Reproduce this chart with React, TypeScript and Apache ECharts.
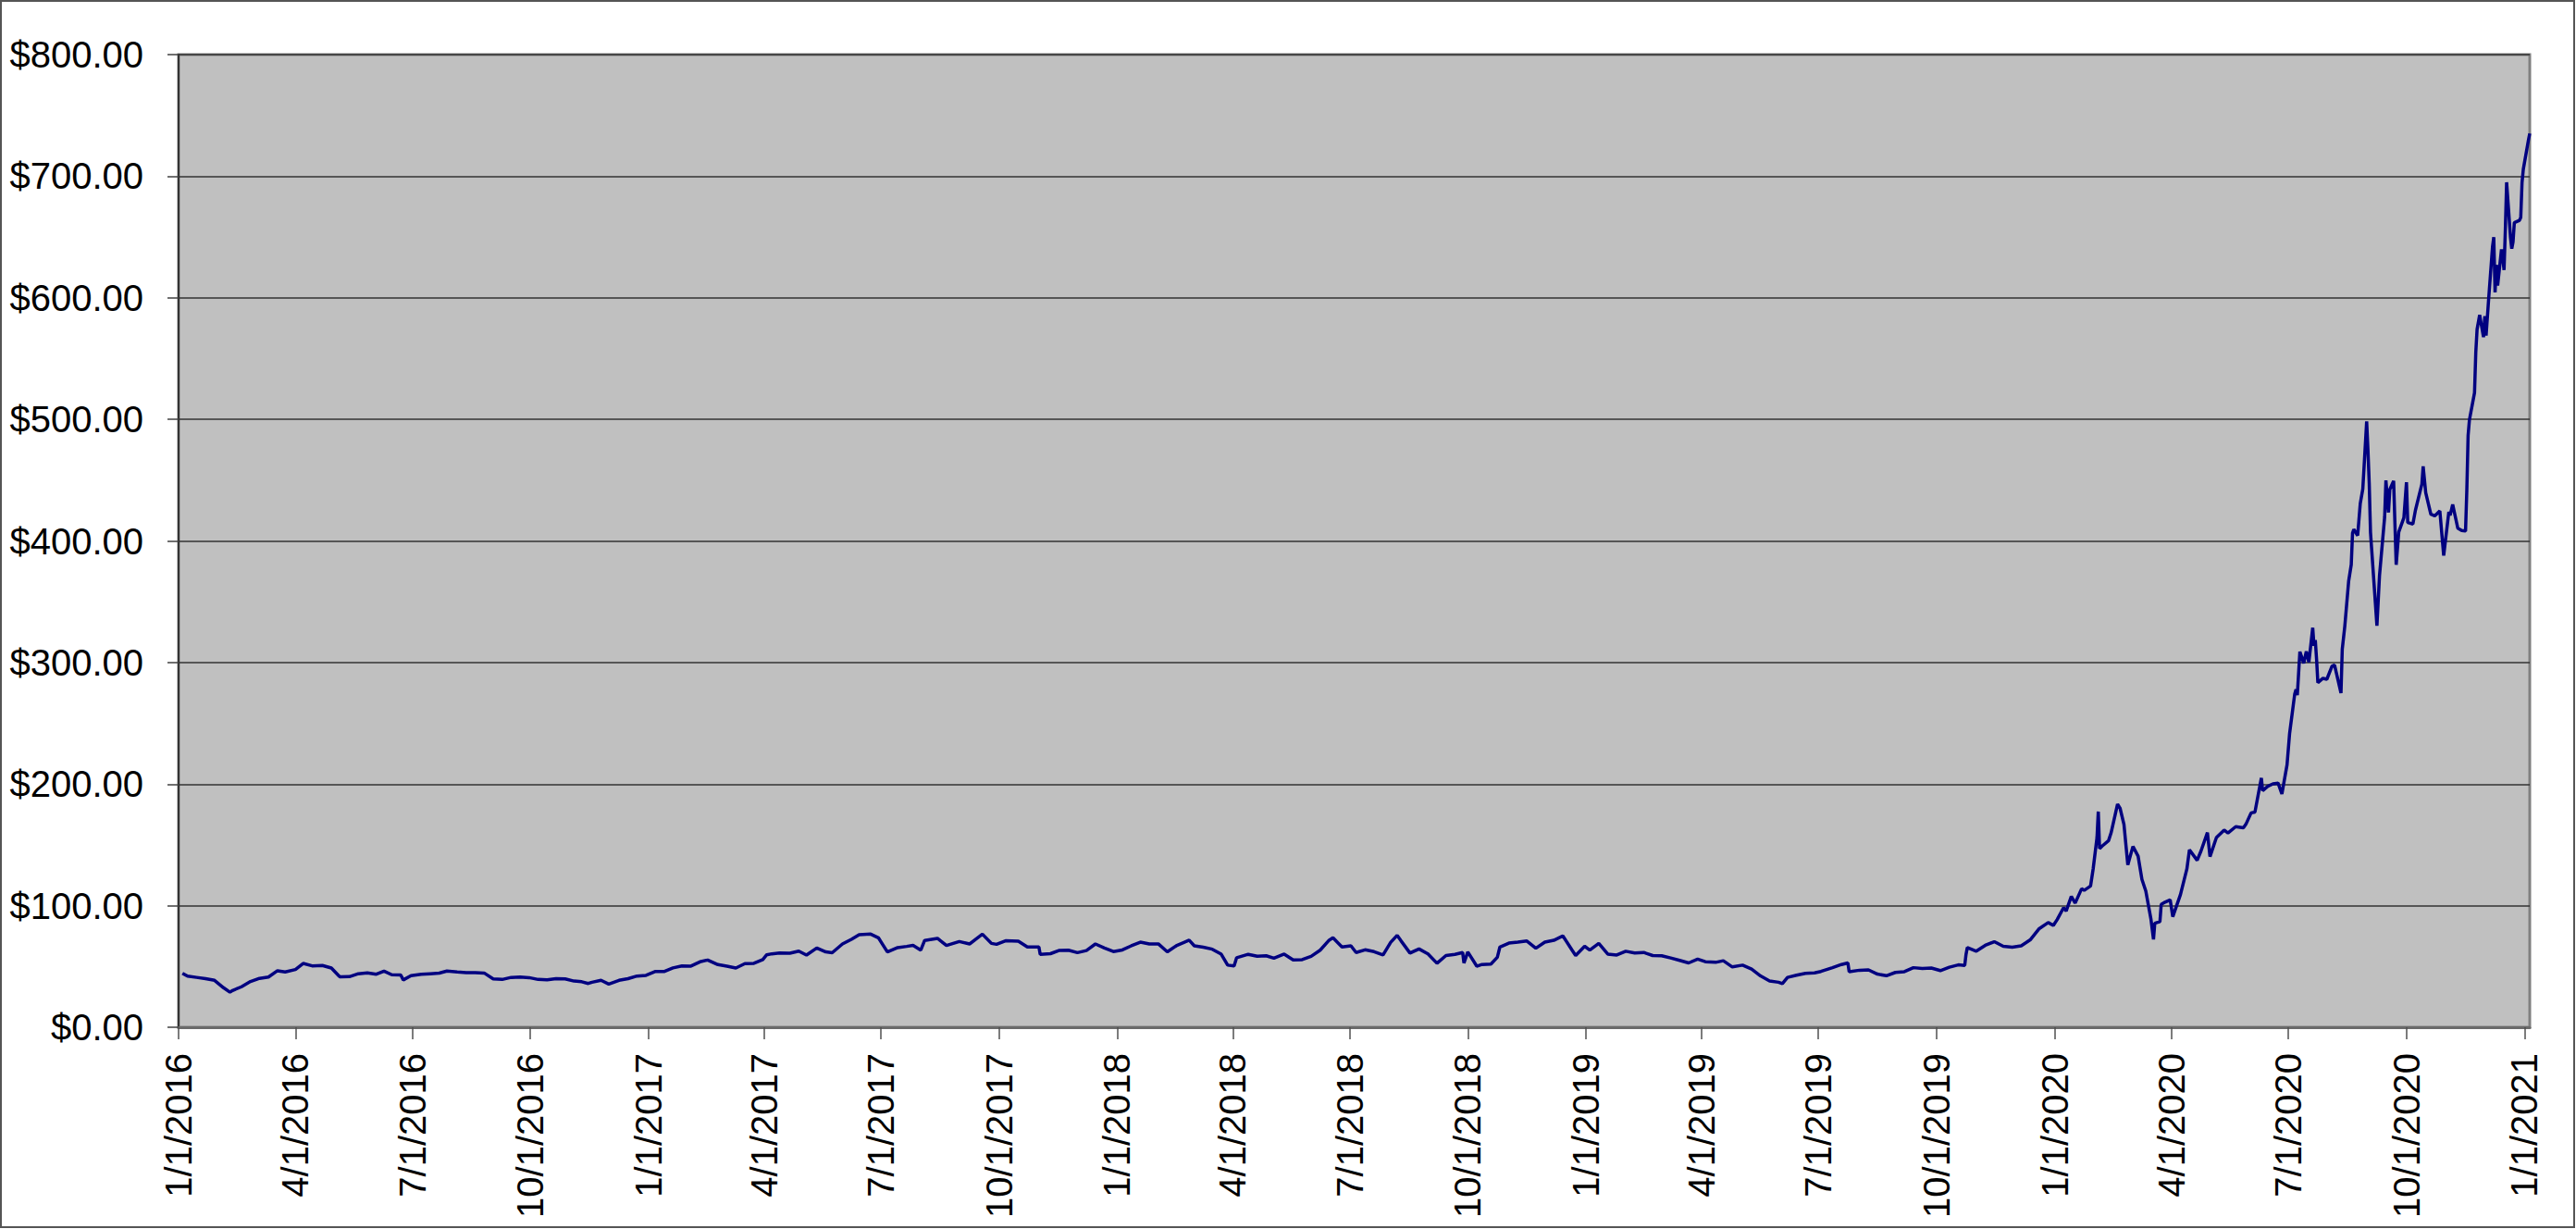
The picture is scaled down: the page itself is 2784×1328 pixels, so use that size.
import React, { useEffect, useRef } from "react";
import * as echarts from "echarts";

const tickLabels = [
  "1/1/2016", "4/1/2016", "7/1/2016", "10/1/2016",
  "1/1/2017", "4/1/2017", "7/1/2017", "10/1/2017",
  "1/1/2018", "4/1/2018", "7/1/2018", "10/1/2018",
  "1/1/2019", "4/1/2019", "7/1/2019", "10/1/2019",
  "1/1/2020", "4/1/2020", "7/1/2020", "10/1/2020",
  "1/1/2021",
];

const axisStart = "2016-01-01";
const axisEnd = "2021-01-05";

const prices2016: [string, number][] = [
  ["2016-01-04", 44.4], ["2016-01-08", 42.0], ["2016-01-15", 41.0], ["2016-01-22", 40.0],
  ["2016-01-29", 38.6], ["2016-02-05", 32.5], ["2016-02-10", 28.8], ["2016-02-12", 30.2],
  ["2016-02-19", 33.3], ["2016-02-26", 37.6], ["2016-03-04", 40.2], ["2016-03-11", 41.3],
  ["2016-03-18", 46.5], ["2016-03-24", 45.5], ["2016-04-01", 47.5], ["2016-04-07", 52.5],
  ["2016-04-14", 50.5], ["2016-04-22", 50.8], ["2016-04-29", 48.7], ["2016-05-05", 42.0],
  ["2016-05-06", 41.4], ["2016-05-13", 41.6], ["2016-05-20", 44.0], ["2016-05-27", 44.7],
  ["2016-06-03", 43.6], ["2016-06-09", 46.2], ["2016-06-15", 43.2], ["2016-06-22", 43.0],
  ["2016-06-24", 38.9], ["2016-06-30", 42.4], ["2016-07-08", 43.5], ["2016-07-15", 44.0],
  ["2016-07-22", 44.5], ["2016-07-28", 46.2], ["2016-08-05", 45.5], ["2016-08-12", 45.0],
  ["2016-08-19", 45.0], ["2016-08-26", 44.6], ["2016-09-02", 39.8], ["2016-09-09", 39.3],
  ["2016-09-16", 41.0], ["2016-09-23", 41.3], ["2016-09-30", 40.8], ["2016-10-07", 39.3],
  ["2016-10-14", 39.0], ["2016-10-21", 40.0], ["2016-10-28", 39.8], ["2016-11-04", 38.0],
  ["2016-11-10", 37.4], ["2016-11-15", 36.0], ["2016-11-18", 37.0], ["2016-11-25", 38.6],
  ["2016-12-01", 35.5], ["2016-12-09", 38.6], ["2016-12-16", 40.0], ["2016-12-23", 42.1],
  ["2016-12-30", 42.7],
];

const prices2017: [string, number][] = [
  ["2017-01-06", 45.8], ["2017-01-13", 45.8], ["2017-01-20", 48.8], ["2017-01-27", 50.4],
  ["2017-02-03", 50.3], ["2017-02-10", 53.8], ["2017-02-16", 55.3], ["2017-02-24", 51.5],
  ["2017-03-03", 50.2], ["2017-03-10", 48.7], ["2017-03-17", 52.3], ["2017-03-24", 52.6],
  ["2017-03-31", 55.7], ["2017-04-03", 59.6], ["2017-04-07", 60.4], ["2017-04-13", 61.0],
  ["2017-04-21", 60.9], ["2017-04-28", 62.6], ["2017-05-04", 59.4], ["2017-05-12", 65.2],
  ["2017-05-19", 62.0], ["2017-05-24", 61.3], ["2017-06-01", 68.5], ["2017-06-08", 72.3],
  ["2017-06-14", 76.1], ["2017-06-23", 76.6], ["2017-06-29", 73.6], ["2017-07-06", 61.9],
  ["2017-07-14", 65.5], ["2017-07-21", 66.5], ["2017-07-26", 67.3], ["2017-08-01", 63.4],
  ["2017-08-04", 71.4], ["2017-08-14", 73.1], ["2017-08-21", 67.3], ["2017-08-31", 70.5],
  ["2017-09-08", 68.5], ["2017-09-18", 76.6], ["2017-09-25", 69.0], ["2017-09-29", 68.2],
  ["2017-10-06", 71.1], ["2017-10-16", 70.8], ["2017-10-23", 66.0], ["2017-11-01", 66.0],
  ["2017-11-02", 59.9], ["2017-11-10", 60.5], ["2017-11-17", 63.2], ["2017-11-24", 63.4],
  ["2017-12-01", 61.4], ["2017-12-08", 63.1], ["2017-12-15", 68.5], ["2017-12-22", 65.2],
  ["2017-12-29", 62.3],
];

const prices2018: [string, number][] = [
  ["2018-01-05", 63.6], ["2018-01-12", 67.0], ["2018-01-19", 70.0], ["2018-01-26", 68.5],
  ["2018-02-02", 68.6], ["2018-02-09", 62.0], ["2018-02-16", 67.0], ["2018-02-26", 71.6],
  ["2018-03-02", 67.0], ["2018-03-09", 65.9], ["2018-03-16", 64.2], ["2018-03-23", 60.1],
  ["2018-03-28", 51.1], ["2018-04-02", 50.4], ["2018-04-04", 57.2], ["2018-04-13", 60.0],
  ["2018-04-20", 58.4], ["2018-04-27", 58.8], ["2018-05-03", 56.8], ["2018-05-11", 60.2],
  ["2018-05-18", 55.4], ["2018-05-25", 55.6], ["2018-06-01", 58.3], ["2018-06-08", 63.4],
  ["2018-06-15", 71.6], ["2018-06-18", 73.6], ["2018-06-25", 66.0], ["2018-07-02", 67.0],
  ["2018-07-06", 61.5], ["2018-07-13", 63.7], ["2018-07-20", 62.2], ["2018-07-27", 59.5],
  ["2018-08-02", 69.9], ["2018-08-07", 75.6], ["2018-08-10", 71.1], ["2018-08-17", 61.0],
  ["2018-08-24", 64.4], ["2018-08-31", 60.3], ["2018-09-07", 52.6], ["2018-09-14", 59.0],
  ["2018-09-21", 59.9], ["2018-09-27", 61.5], ["2018-09-28", 52.8], ["2018-10-01", 61.9],
  ["2018-10-08", 50.2], ["2018-10-12", 51.6], ["2018-10-19", 52.0], ["2018-10-24", 57.6],
  ["2018-10-26", 66.0], ["2018-11-02", 69.2], ["2018-11-09", 70.0], ["2018-11-16", 70.9],
  ["2018-11-23", 65.0], ["2018-11-30", 70.0], ["2018-12-07", 71.5], ["2018-12-14", 75.2],
  ["2018-12-21", 63.8], ["2018-12-24", 59.0], ["2018-12-31", 66.6],
];

const prices2019: [string, number][] = [
  ["2019-01-04", 63.5], ["2019-01-11", 69.0], ["2019-01-18", 60.2], ["2019-01-25", 59.4],
  ["2019-02-01", 62.5], ["2019-02-08", 61.1], ["2019-02-15", 61.5], ["2019-02-22", 59.0],
  ["2019-03-01", 58.8], ["2019-03-08", 57.0], ["2019-03-15", 55.0], ["2019-03-22", 52.9],
  ["2019-03-29", 56.0], ["2019-04-04", 53.9], ["2019-04-12", 53.4], ["2019-04-18", 54.7],
  ["2019-04-25", 49.6], ["2019-05-03", 51.1], ["2019-05-10", 47.9], ["2019-05-17", 42.2],
  ["2019-05-24", 38.1], ["2019-05-31", 37.0], ["2019-06-03", 35.8], ["2019-06-07", 41.0],
  ["2019-06-14", 42.8], ["2019-06-21", 44.3], ["2019-06-28", 44.7], ["2019-07-03", 45.9],
  ["2019-07-12", 49.0], ["2019-07-19", 51.6], ["2019-07-24", 52.9], ["2019-07-25", 45.6],
  ["2019-08-02", 46.9], ["2019-08-09", 47.2], ["2019-08-16", 43.7], ["2019-08-23", 42.4],
  ["2019-08-30", 45.1], ["2019-09-06", 45.7], ["2019-09-13", 49.0], ["2019-09-20", 48.3],
  ["2019-09-27", 48.7], ["2019-10-04", 46.6], ["2019-10-11", 49.4], ["2019-10-18", 51.3],
  ["2019-10-23", 50.9], ["2019-10-24", 59.9], ["2019-10-25", 65.6], ["2019-11-01", 62.6],
  ["2019-11-08", 67.4], ["2019-11-15", 70.4], ["2019-11-22", 66.6], ["2019-11-29", 65.9],
  ["2019-12-06", 67.0], ["2019-12-13", 71.9], ["2019-12-20", 81.1], ["2019-12-27", 86.1],
  ["2019-12-31", 83.7],
];

const prices2020: [string, number][] = [
  ["2020-01-03", 88.6], ["2020-01-08", 98.4], ["2020-01-10", 95.6], ["2020-01-14", 107.6],
  ["2020-01-17", 102.1], ["2020-01-22", 113.9], ["2020-01-24", 112.6], ["2020-01-29", 116.2],
  ["2020-01-31", 130.1], ["2020-02-03", 156.0], ["2020-02-04", 177.4], ["2020-02-05", 146.9],
  ["2020-02-07", 149.0], ["2020-02-12", 153.5], ["2020-02-14", 160.0], ["2020-02-19", 183.5],
  ["2020-02-21", 180.0], ["2020-02-24", 166.8], ["2020-02-27", 133.6], ["2020-03-02", 148.7],
  ["2020-03-06", 140.7], ["2020-03-09", 121.6], ["2020-03-12", 112.1], ["2020-03-16", 89.0],
  ["2020-03-18", 72.2], ["2020-03-19", 85.5], ["2020-03-23", 86.9], ["2020-03-24", 101.0],
  ["2020-03-27", 102.9], ["2020-03-31", 104.8], ["2020-04-02", 90.9], ["2020-04-08", 109.1],
  ["2020-04-13", 130.2], ["2020-04-15", 146.0], ["2020-04-21", 137.3], ["2020-04-24", 145.0],
  ["2020-04-29", 160.1], ["2020-05-01", 140.3], ["2020-05-06", 156.0], ["2020-05-12", 162.2],
  ["2020-05-15", 159.8], ["2020-05-21", 165.0], ["2020-05-27", 164.0], ["2020-05-29", 167.0],
  ["2020-06-02", 176.3], ["2020-06-05", 177.0], ["2020-06-10", 205.0], ["2020-06-11", 194.6],
  ["2020-06-15", 198.2], ["2020-06-19", 200.2], ["2020-06-23", 200.8], ["2020-06-26", 191.9],
  ["2020-06-30", 215.9], ["2020-07-02", 241.7], ["2020-07-06", 274.3], ["2020-07-07", 277.9],
  ["2020-07-08", 273.2], ["2020-07-10", 308.9], ["2020-07-13", 299.4], ["2020-07-15", 309.2],
  ["2020-07-17", 300.2], ["2020-07-20", 328.6], ["2020-07-21", 313.7], ["2020-07-22", 318.5],
  ["2020-07-23", 302.6], ["2020-07-24", 283.4], ["2020-07-28", 287.0], ["2020-07-31", 286.2],
  ["2020-08-04", 297.0], ["2020-08-06", 297.9], ["2020-08-11", 274.9], ["2020-08-12", 310.9],
  ["2020-08-14", 330.1], ["2020-08-17", 367.1], ["2020-08-19", 380.5], ["2020-08-20", 406.4],
  ["2020-08-21", 409.5], ["2020-08-24", 404.4], ["2020-08-26", 430.6], ["2020-08-28", 442.7],
  ["2020-08-31", 498.3], ["2020-09-01", 475.1], ["2020-09-02", 447.4], ["2020-09-03", 407.0],
  ["2020-09-08", 330.2], ["2020-09-10", 371.3], ["2020-09-14", 419.6], ["2020-09-15", 449.8],
  ["2020-09-17", 423.4], ["2020-09-18", 442.2], ["2020-09-21", 449.4], ["2020-09-23", 380.4],
  ["2020-09-25", 407.3], ["2020-09-29", 419.1], ["2020-10-01", 448.2], ["2020-10-02", 415.1],
  ["2020-10-06", 413.9], ["2020-10-08", 425.3], ["2020-10-13", 446.7], ["2020-10-14", 461.3],
  ["2020-10-16", 439.7], ["2020-10-20", 421.9], ["2020-10-23", 420.6], ["2020-10-27", 424.7],
  ["2020-10-30", 388.0], ["2020-11-03", 423.9], ["2020-11-04", 421.0], ["2020-11-06", 430.0],
  ["2020-11-10", 410.4], ["2020-11-13", 408.5], ["2020-11-16", 408.1], ["2020-11-17", 441.6],
  ["2020-11-18", 486.6], ["2020-11-19", 499.3], ["2020-11-23", 521.9], ["2020-11-24", 555.4],
  ["2020-11-25", 574.0], ["2020-11-27", 585.8], ["2020-11-30", 567.6], ["2020-12-01", 584.8],
  ["2020-12-02", 568.8], ["2020-12-04", 599.0], ["2020-12-07", 641.8], ["2020-12-08", 649.9],
  ["2020-12-09", 604.5], ["2020-12-10", 627.1], ["2020-12-11", 610.0], ["2020-12-14", 639.8],
  ["2020-12-15", 633.3], ["2020-12-16", 622.8], ["2020-12-17", 655.9], ["2020-12-18", 695.0],
  ["2020-12-21", 649.9], ["2020-12-22", 640.3], ["2020-12-23", 646.0], ["2020-12-24", 661.8],
  ["2020-12-28", 663.7], ["2020-12-29", 666.0], ["2020-12-30", 694.8], ["2020-12-31", 705.7],
];

const prices2021: [string, number][] = [
  ["2021-01-04", 729.8], ["2021-01-05", 735.1],
];

const FONT = "'Liberation Sans', Arial, Helvetica, sans-serif";

function parseUS(s: string): number {
  const [m, d, y] = s.split("/").map(Number);
  return Date.UTC(y, m - 1, d);
}

function fmtUS(t: number): string {
  const d = new Date(t);
  return `${d.getUTCMonth() + 1}/${d.getUTCDate()}/${d.getUTCFullYear()}`;
}

export default function App() {
  const ref = useRef<HTMLDivElement>(null);

  useEffect(() => {
    if (!ref.current) return;
    const chart = echarts.init(ref.current, undefined, { renderer: "svg" });
    const all = [...prices2016, ...prices2017, ...prices2018, ...prices2019, ...prices2020, ...prices2021];
    const seriesData = all.map(([d, v]) => [Date.parse(d), v]);
    const tickTimes = tickLabels.map(parseUS);

    chart.setOption({
      animation: false,
      backgroundColor: "#ffffff",
      grid: {
        left: 193,
        top: 59,
        right: 50,
        bottom: 218,
        show: true,
        backgroundColor: "#C0C0C0",
        borderColor: "#808080",
        borderWidth: 3,
        containLabel: false,
      },
      xAxis: {
        type: "value",
        min: Date.parse(axisStart),
        max: Date.parse(axisEnd),
        axisLine: { show: true, onZero: false, lineStyle: { color: "#6a6a6a", width: 3 } },
        axisTick: {
          show: true,
          customValues: tickTimes,
          length: 13,
          lineStyle: { color: "#505050", width: 1.5 },
        },
        axisLabel: {
          show: true,
          customValues: tickTimes,
          rotate: 90,
          margin: 28,
          fontSize: 40,
          fontFamily: FONT,
          color: "#000000",
          hideOverlap: false,
          formatter: (v: number) => fmtUS(v),
        },
        splitLine: { show: false },
      },
      yAxis: {
        type: "value",
        min: 0,
        max: 800,
        interval: 100,
        axisLine: { show: true, lineStyle: { color: "#333333", width: 2 } },
        axisTick: { show: true, length: 12, lineStyle: { color: "#404040", width: 1.5 } },
        axisLabel: {
          margin: 38,
          fontSize: 40,
          fontFamily: FONT,
          color: "#000000",
          formatter: (v: number) => `$${v.toFixed(2)}`,
        },
        splitLine: { show: true, lineStyle: { color: "#333333", width: 1.5 } },
      },
      graphic: [
        {
          type: "rect",
          silent: true,
          z: -10,
          shape: { x: 1, y: 1, width: 2781, height: 1325 },
          style: { fill: "none", stroke: "#555555", lineWidth: 2 },
        },
      ],
      series: [
        {
          type: "line",
          data: seriesData,
          showSymbol: false,
          symbol: "none",
          lineStyle: { color: "#000080", width: 3.5 },
          itemStyle: { color: "#000080" },
          clip: true,
        },
      ],
    });

    return () => chart.dispose();
  }, []);

  return (
    <div
      ref={ref}
      style={{ position: "fixed", left: 0, top: 0, width: "2784px", height: "1328px", background: "#fff" }}
    />
  );
}
